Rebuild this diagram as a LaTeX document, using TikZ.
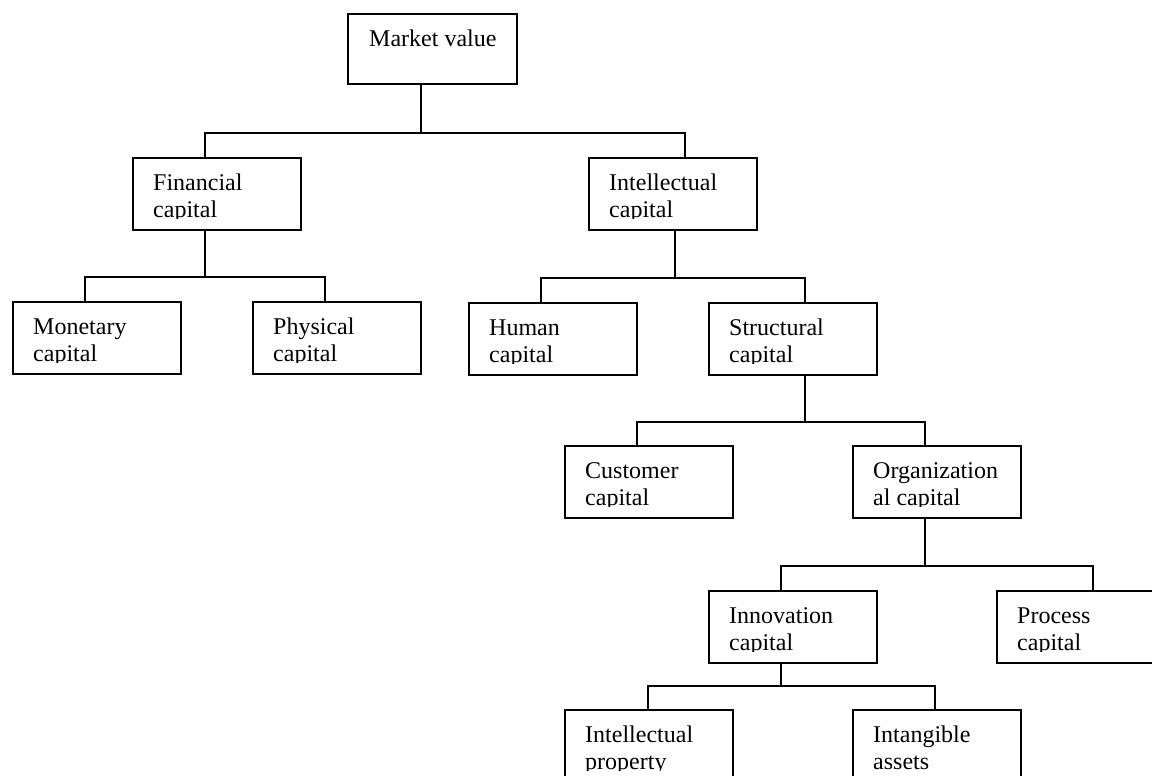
\documentclass[tikz,border=0pt]{standalone}
\usepackage{fontspec}
\setmainfont{Liberation Serif}
\newcommand\mytwo[2]{\vtop{\hbox{#1}\hbox{#2}}}
\tikzset{
  box/.style={draw, line width=1.9pt, minimum width=168pt, minimum height=72pt, inner sep=0pt, anchor=north west},
  lbl/.style={inner sep=0pt, anchor=base west, font=\fontsize{24}{27}\selectfont},
  link/.style={line width=1.9pt},
}
\newcommand\cbox[5]{%
  \node[box] (#1) at (#2,#3) {};
  \begin{scope}
    \clip (#2,#3) rectangle ++(168,61);
    \node[lbl] (#1t) at (#2+21,#3+33) {\mytwo{#4}{#5}};
  \end{scope}}
\begin{document}
\begin{tikzpicture}[x=1pt,y=-1pt]
\path[use as bounding box] (0,0) rectangle (1152,776);
\fill[white] (0,0) rectangle (1152,776);
\clip (0,0) rectangle (1152,776);

% top box
\node[box, minimum width=169pt, minimum height=70pt] (mv) at (347,13) {};
\node[lbl] (mvt) at (369,47) {Market value};

\cbox{fin}{132}{157}{Financial}{capital}
\cbox{int}{588}{157}{Intellectual}{capital}
\cbox{mon}{12}{301}{Monetary}{capital}
\cbox{phy}{252}{301}{Physical}{capital}
\cbox{hum}{468}{302}{Human}{capital}
\cbox{str}{708}{302}{Structural}{capital}
\cbox{cus}{564}{445}{Customer}{capital}
\cbox{org}{852}{445}{Organization}{al capital}
\cbox{inn}{708}{590}{Innovation}{capital}
\cbox{pro}{996}{590}{Process}{capital}
\cbox{ip}{564}{709}{Intellectual}{property}
\cbox{ia}{852}{709}{Intangible}{assets}

% bus junctions, straight below each parent's stem
\coordinate (b1) at ([xshift=-11.5pt]mv.south |- 0,133);
\coordinate (b2) at ([xshift=-12pt]fin.south |- 0,277);
\coordinate (b3) at ([xshift=2pt]int.south |- 0,278);
\coordinate (b4) at ([xshift=12pt]str.south |- 0,422);
\coordinate (b5) at ([xshift=-12pt]org.south |- 0,566);
\coordinate (b6) at ([xshift=-12pt]inn.south |- 0,686);

\draw[link] ([xshift=-11.5pt]mv.south) -- (b1);
\draw[link] ([xshift=-12pt]fin.north) |- (b1) -| ([xshift=12pt]int.north);

\draw[link] ([xshift=-12pt]fin.south) -- (b2);
\draw[link] ([xshift=-12pt]mon.north) |- (b2) -| ([xshift=-12pt]phy.north);

\draw[link] ([xshift=2pt]int.south) -- (b3);
\draw[link] ([xshift=-12pt]hum.north) |- (b3) -| ([xshift=12pt]str.north);

\draw[link] ([xshift=12pt]str.south) -- (b4);
\draw[link] ([xshift=-12pt]cus.north) |- (b4) -| ([xshift=-12pt]org.north);

\draw[link] ([xshift=-12pt]org.south) -- (b5);
\draw[link] ([xshift=-12pt]inn.north) |- (b5) -| ([xshift=12pt]pro.north);

\draw[link] ([xshift=-12pt]inn.south) -- (b6);
\draw[link] ([xshift=-1pt]ip.north) |- (b6) -| ([xshift=-2pt]ia.north);
\end{tikzpicture}
\end{document}
